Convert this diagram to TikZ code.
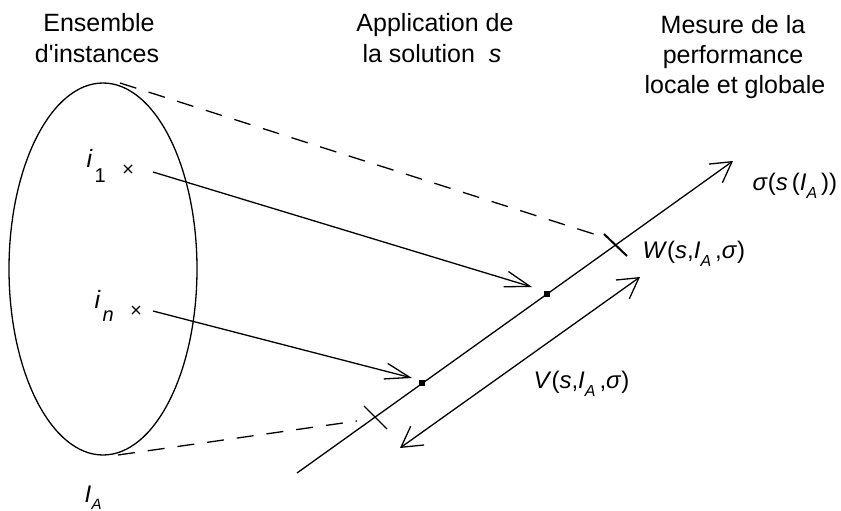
\documentclass[tikz,border=0pt]{standalone}
\usepackage{fontspec}
\setmainfont{Liberation Sans}
\usetikzlibrary{arrows.meta,shapes.geometric}
\newcommand\mysubA{\raisebox{-8pt}{\fontsize{16}{16}\selectfont\textit{A}}}
\begin{document}
\begin{tikzpicture}[x=1pt,y=-1pt,line width=1.3pt,
  txt/.style={font=\fontsize{25}{28}\selectfont,inner sep=0pt,anchor=base},
  lab/.style={font=\fontsize{24}{28}\selectfont,inner sep=0pt,anchor=base west},
  sub/.style={font=\fontsize{20}{22}\selectfont,inner sep=0pt,anchor=base west},
  wide/.style={-{Straight Barb[length=20pt,width=23pt]}},
  narrow/.style={-{Straight Barb[length=25pt,width=16pt]}},
  dsh/.style={dash pattern=on 17pt off 13pt},
  dotsq/.style={fill=black,minimum size=6pt,inner sep=0pt,draw=none,rectangle}]
\useasboundingbox (0,0) rectangle (841,511);
% headers
\node[txt] (h1a) at (99,32) {Ensemble};
\node[txt] (h1b) at (97,63) {d\textquotesingle instances};
\node[txt] (h2a) at (435,32) {Application de};
\node[txt] (h2b) at (432,63) {la solution\ \ \textit{s}};
\node[txt] (h3a) at (733,34) {Mesure de la};
\node[txt] (h3b) at (733,64) {performance};
\node[txt] (h3c) at (735,94) {locale et globale};
% ellipse
\node[draw,ellipse,minimum width=188pt,minimum height=372pt,inner sep=0pt] (set) at (103,269) {};
% instance labels
\node[lab,font=\fontsize{25}{28}\selectfont] (i1) at (86,167) {\textit{i}};
\node[sub] (i1s) at (94,182) {1};
\node[lab,font=\fontsize{25}{28}\selectfont] (in) at (94,308) {\textit{i}};
\node[sub] (ins) at (102,321) {\textit{n}};
\node[lab] (IA) at (84,502) {\textit{I}};
\node[sub,font=\fontsize{15}{16}\selectfont] (IAs) at (91,509) {\textit{A}};
% crosses
\coordinate (c1) at (128,169);
\coordinate (cn) at (136,310);
\draw[line width=1.1pt] ([shift={(-4,-4)}]c1) -- ([shift={(4,4)}]c1) ([shift={(-4,4)}]c1) -- ([shift={(4,-4)}]c1);
\draw[line width=1.1pt] ([shift={(-4,-4)}]cn) -- ([shift={(4,4)}]cn) ([shift={(-4,4)}]cn) -- ([shift={(4,-4)}]cn);
% axis
\coordinate (ax0) at (297,473);
\coordinate (ax1) at (733,161);
\draw[wide] (ax0) -- (ax1);
% V double arrow
\coordinate (v0) at (400,448);
\coordinate (v1) at (640,277);
\draw[{Straight Barb[length=20pt,width=23pt]}-{Straight Barb[length=20pt,width=23pt]}] (v0) -- (v1);
% instance arrows
\coordinate (a1s) at (153,172);
\coordinate (a1e) at (532,287);
\coordinate (ans) at (153,311);
\coordinate (ane) at (412,378);
\draw[narrow] (a1s) -- (a1e);
\draw[narrow] (ans) -- (ane);
% dots on axis
\node[dotsq] (d1) at (547,294) {};
\node[dotsq] (d2) at (422,383) {};
% dashed lines
\coordinate (t0) at (120,83);
\coordinate (t1) at (600,236);
\coordinate (b0) at (118,455);
\coordinate (b1) at (357,421);
\draw[dsh] (t0) -- (t1);
\draw[dsh] (b0) -- (b1);
% ticks
\coordinate (wk0) at (604,234);
\coordinate (wk1) at (627,256);
\coordinate (xk0) at (364,406);
\coordinate (xk1) at (387,429);
\draw[line width=2pt] (wk0) -- (wk1);
\draw[line width=1.1pt] (xk0) -- (xk1);
% labels
\node[lab] (sig) at (752,190) {\textit{σ}(\textit{s}\,(\textit{I}\mysubA\,))};
\node[lab] (W) at (642,258) {\textit{W}(\textit{s},\textit{I}\mysubA\,,\textit{σ})};
\node[lab] (V) at (533,388) {\textit{V}(\textit{s},\textit{I}\mysubA\,,\textit{σ})};
\end{tikzpicture}
\end{document}
